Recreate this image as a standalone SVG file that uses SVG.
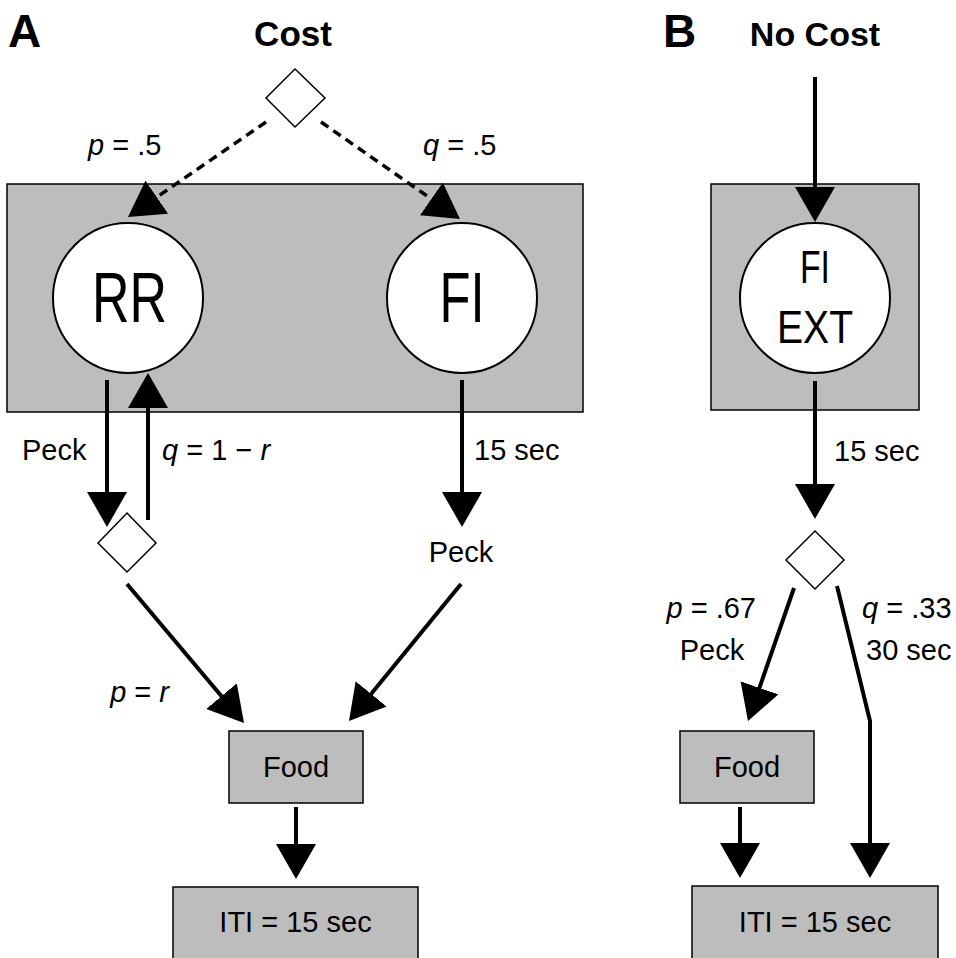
<svg xmlns="http://www.w3.org/2000/svg" width="956" height="958" viewBox="0 0 956 958">
  <style>
    text { font-family: "Liberation Sans", Arial, sans-serif; fill: #000; }
    .title { font-weight: bold; text-anchor: middle; }
    .panel { font-weight: bold; font-size: 46px; }
    .lbl { font-size: 29px; }
    .mid { text-anchor: middle; }
    .end { text-anchor: end; }
    .it { font-style: italic; }
    .box { fill: #bdbdbd; stroke: #000; stroke-width: 1.5; }
    .state { fill: #fff; stroke: #000; stroke-width: 2; }
    .dia { fill: #fff; stroke: #000; stroke-width: 1.5; }
    .arr { fill: none; stroke: #000; stroke-width: 4; marker-end: url(#ah); }
    .dash { fill: none; stroke: #000; stroke-width: 3.5; stroke-dasharray: 9 6; marker-end: url(#ah); }
  </style>
  <defs>
    <marker id="ah" viewBox="0 0 35 40" markerWidth="35" markerHeight="40" refX="5" refY="20" orient="auto" markerUnits="userSpaceOnUse">
      <path d="M0,0 L35,20 L0,40 Z" fill="#000"/>
    </marker>
  </defs>
  <rect width="956" height="958" fill="#fff"/>

  <!-- Panel labels and titles -->
  <text class="panel" x="8" y="47">A</text>
  <text class="panel" x="663" y="47">B</text>
  <text class="title" x="293" y="46" font-size="35">Cost</text>
  <text class="title" x="815" y="46" font-size="34">No Cost</text>

  <!-- Panel A -->
  <g id="a-schedule-box"><rect class="box" x="7" y="184" width="576" height="228"/></g>
  <g id="a-cost-choice"><polygon class="dia" points="295,69 325,98 295,127 266,98"/></g>
  <g id="a-rr">
    <circle class="state" cx="128" cy="298" r="75"/>
    <text x="129.5" y="322" font-size="70" text-anchor="middle" textLength="75" lengthAdjust="spacingAndGlyphs">RR</text>
  </g>
  <g id="a-fi">
    <circle class="state" cx="462" cy="298" r="75"/>
    <text x="462" y="322" font-size="70" text-anchor="middle" textLength="45" lengthAdjust="spacingAndGlyphs">FI</text>
  </g>
  <g id="a-rr-choice"><polygon class="dia" points="127,513 156,543 127,572 98,543"/></g>
  <g id="a-fi-peck"><text class="lbl mid" x="461" y="562">Peck</text></g>
  <g id="a-food">
    <rect class="box" x="229" y="731" width="134" height="72"/>
    <text class="lbl mid" x="296" y="777">Food</text>
  </g>
  <g id="a-iti">
    <rect class="box" x="173" y="887" width="245" height="80"/>
    <text class="lbl mid" x="295.5" y="932">ITI = 15 sec</text>
  </g>

  <!-- Panel B -->
  <g id="b-schedule-box"><rect class="box" x="711" y="184" width="208" height="226"/></g>
  <g id="b-fiext">
    <circle class="state" cx="815" cy="298" r="75"/>
    <text x="815" y="283" font-size="46" text-anchor="middle" textLength="30" lengthAdjust="spacingAndGlyphs">FI</text>
    <text x="815" y="343" font-size="46" text-anchor="middle" textLength="76" lengthAdjust="spacingAndGlyphs">EXT</text>
  </g>
  <g id="b-choice"><polygon class="dia" points="815,531 844,560 815,589 786,560"/></g>
  <g id="b-food">
    <rect class="box" x="680" y="731" width="134" height="72"/>
    <text class="lbl mid" x="747" y="777">Food</text>
  </g>
  <g id="b-iti">
    <rect class="box" x="692" y="886" width="246" height="80"/>
    <text class="lbl mid" x="815" y="932">ITI = 15 sec</text>
  </g>

  <!-- Connectors -->
  <g id="connectors">
    <line class="dash" x1="266" y1="122" x2="152.7" y2="200"/>
    <line class="dash" x1="321" y1="122" x2="435.4" y2="201.8"/>
    <line class="arr" x1="107" y1="380" x2="107" y2="497"/>
    <line class="arr" x1="148" y1="520" x2="148" y2="403"/>
    <line class="arr" x1="462" y1="380" x2="462" y2="497"/>
    <line class="arr" x1="127" y1="584" x2="224.7" y2="700"/>
    <line class="arr" x1="461" y1="584" x2="368" y2="697.8"/>
    <line class="arr" x1="296" y1="807" x2="296" y2="849"/>

    <line class="arr" x1="815" y1="77" x2="815" y2="192"/>
    <line class="arr" x1="815" y1="381" x2="815" y2="489"/>
    <line class="arr" x1="794" y1="588" x2="757.8" y2="692.6"/>
    <polyline class="arr" points="837,586 870,721 870,848"/>
    <line class="arr" x1="740" y1="807" x2="740" y2="848"/>
  </g>

  <!-- Connector labels -->
  <g id="labels">
    <text class="lbl" x="88" y="155"><tspan class="it">p</tspan> = .5</text>
    <text class="lbl" x="423" y="155"><tspan class="it">q</tspan> = .5</text>
    <text class="lbl" x="22" y="460">Peck</text>
    <text class="lbl" x="162" y="460"><tspan class="it">q</tspan> = 1 − <tspan class="it">r</tspan></text>
    <text class="lbl" x="474" y="460">15 sec</text>
    <text class="lbl end" x="169" y="702"><tspan class="it">p</tspan> = <tspan class="it">r</tspan></text>

    <text class="lbl" x="834" y="461">15 sec</text>
    <text class="lbl end" x="756" y="618"><tspan class="it">p</tspan> = .67</text>
    <text class="lbl mid" x="712" y="660">Peck</text>
    <text class="lbl" x="862" y="618"><tspan class="it">q</tspan> = .33</text>
    <text class="lbl" x="866" y="660">30 sec</text>
  </g>
</svg>
